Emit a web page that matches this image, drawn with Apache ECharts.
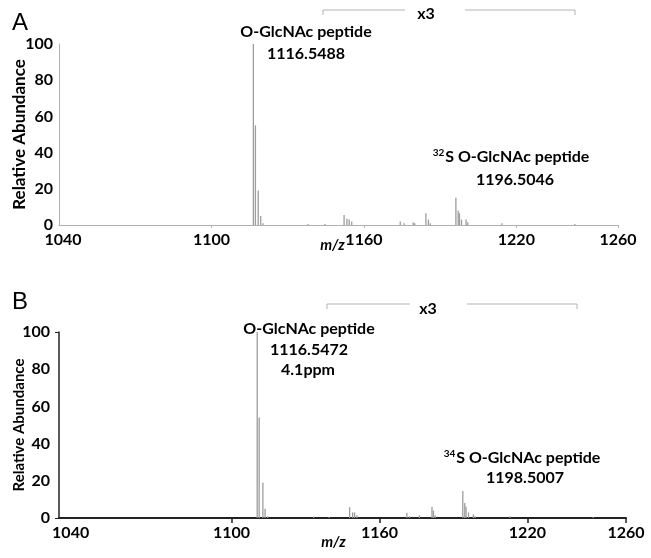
<!DOCTYPE html>
<html>
<head>
<meta charset="utf-8">
<script src="https://cdn.jsdelivr.net/npm/echarts@6/dist/echarts.min.js"></script>
<style>
  html, body { margin: 0; padding: 0; background: #fff; }
  #chart { width: 651px; height: 558px; }
</style>
</head>
<body>
<div id="chart"></div>
<script>
// panel A: spectrum (m/z, relative abundance)
const mzA = [1116.5, 1117.3, 1118.4, 1119.4, 1120.3, 1138.0, 1144.7, 1152.2, 1153.3, 1154.2, 1155.2,
  1174.3, 1175.8, 1179.4, 1180.0, 1184.4, 1185.4, 1186.1, 1196.2, 1197.1, 1197.6, 1198.4,
  1200.2, 1200.9, 1214.3, 1243.0];
const intA = [100, 55, 19, 5, 1, 0.6, 0.5, 5.5, 3.5, 3, 2,
  2, 1, 1.5, 1, 6.5, 3, 1, 15, 8, 6.5, 3,
  3, 1.5, 1, 0.5];

// panel B
const mzB = [1110.4, 1111.2, 1112.7, 1113.6, 1114.7, 1133.3, 1139.6, 1147.9, 1149.1, 1149.9, 1150.9,
  1171.1, 1172.2, 1176.2, 1181.3, 1181.9, 1182.6, 1193.8, 1194.6, 1195.1, 1196.1, 1198.1,
  1198.8, 1212.9, 1246.7];
const intB = [100, 54, 19, 5, 1, 0.8, 0.5, 5.8, 3, 3, 1.5,
  2.8, 1, 1.5, 6, 4, 1.5, 14.5, 8, 6, 3, 2,
  1, 1, 0.5];

const xTicks = [1040, 1100, 1160, 1220, 1260];

const FONT = 'Lato';
const INK = '#000';
const peakColor = '#9c9c9c';

function pairs(xs, ys) {
  return xs.map((x, i) => [x, ys[i]]);
}

// stick spectrum: one vertical line per peak, placed through the axes
function sticks(params, api) {
  const top = api.coord([api.value(0), api.value(1)]);
  const base = api.coord([api.value(0), 0]);
  return {
    type: 'line',
    shape: { x1: top[0], y1: base[1], x2: top[0], y2: top[1] },
    style: { stroke: peakColor, lineWidth: 1.3 }
  };
}

// 1040 sits a bit off its tick in the original
function xLabel(shift) {
  return {
    customValues: xTicks,
    margin: 7,
    fontFamily: FONT,
    fontWeight: 'bold',
    fontSize: 16,
    color: INK,
    formatter: function (v) {
      return v === 1040 ? '{s|' + v + '}' : String(v);
    },
    rich: {
      s: { fontFamily: FONT, fontWeight: 'bold', fontSize: 16, color: INK, padding: shift }
    }
  };
}

const chart = echarts.init(document.getElementById('chart'), null, { renderer: 'canvas' });

const boldText = { fontFamily: FONT, fontWeight: 'bold', fontSize: 16, fill: INK };

function txt(x, y, text) {
  return {
    type: 'text', x: x, y: y,
    style: Object.assign({ text: text, align: 'center', verticalAlign: 'middle' }, boldText)
  };
}

function supText(x, y, sup, rest) {
  return {
    type: 'text', x: x, y: y,
    style: {
      text: '{sup|' + sup + '}{b|' + rest + '}',
      align: 'center', verticalAlign: 'middle',
      rich: {
        sup: { fontFamily: FONT, fontWeight: 'bold', fontSize: 10, color: INK, padding: [0, 1, 8, 0] },
        b: { fontFamily: FONT, fontWeight: 'bold', fontSize: 16, color: INK }
      }
    }
  };
}

function bracket(y, x1, x2, x3, x4, drop) {
  const ls = { stroke: '#b4b4b4', lineWidth: 1, fill: null };
  return [
    { type: 'polyline', shape: { points: [[x1, y + drop], [x1, y], [x2, y]] }, style: ls },
    { type: 'polyline', shape: { points: [[x3, y], [x4, y], [x4, y + drop]] }, style: ls }
  ];
}

function nameStyleX(padRight) {
  return { fontFamily: FONT, fontWeight: 'bold', fontStyle: 'italic', fontSize: 15, color: INK, padding: [0, padRight, 0, 0] };
}

chart.setOption({
  backgroundColor: '#fff',
  animation: false,
  grid: [
    { left: 59, right: 33, top: 44, height: 181, containLabel: false, outerBoundsMode: 'none' },
    { left: 59, right: 25, top: 332, height: 186, containLabel: false, outerBoundsMode: 'none' }
  ],
  xAxis: [
    {
      gridIndex: 0, type: 'value', min: 1040, max: 1260,
      name: 'm/z', nameLocation: 'middle', nameGap: 13, nameMoveOverlap: false,
      nameTextStyle: nameStyleX(12),
      splitLine: { show: false },
      axisLine: { lineStyle: { color: '#b0b0b0', width: 1 } },
      axisTick: { customValues: [1100, 1160, 1220, 1260], length: 3, lineStyle: { color: '#b0b0b0' } },
      axisLabel: xLabel([0, 0, 0, 8])
    },
    {
      gridIndex: 1, type: 'value', min: 1030, max: 1260,
      name: 'm/z', nameLocation: 'middle', nameGap: 17, nameMoveOverlap: false,
      nameTextStyle: nameStyleX(18),
      splitLine: { show: false },
      axisLine: { lineStyle: { color: '#222', width: 2 } },
      axisTick: { customValues: [1100, 1160, 1220, 1260], length: 5, lineStyle: { color: '#222', width: 1.5 } },
      axisLabel: xLabel([0, 26, 0, 0])
    }
  ],
  yAxis: [
    {
      gridIndex: 0, type: 'value', min: 0, max: 100, interval: 20,
      name: 'Relative Abundance', nameLocation: 'middle', nameGap: 31, nameMoveOverlap: false,
      nameTextStyle: { fontFamily: FONT, fontWeight: 'bold', fontSize: 17, color: INK },
      splitLine: { show: false },
      axisLine: { show: true, lineStyle: { color: '#b0b0b0', width: 1 } },
      axisTick: { show: false },
      axisLabel: { margin: 6, fontFamily: FONT, fontWeight: 'bold', fontSize: 16, color: INK }
    },
    {
      gridIndex: 1, type: 'value', min: 0, max: 100, interval: 20,
      name: 'Relative Abundance', nameLocation: 'middle', nameGap: 32, nameMoveOverlap: false,
      nameTextStyle: { fontFamily: FONT, fontWeight: 'bold', fontSize: 15, color: INK },
      splitLine: { show: false },
      axisLine: { show: true, lineStyle: { color: '#222', width: 1.5 } },
      axisTick: { show: true, customValues: [0, 100], length: 4, lineStyle: { color: '#222' } },
      axisLabel: { margin: 9, fontFamily: FONT, fontWeight: 'bold', fontSize: 16, color: INK }
    }
  ],
  series: [
    {
      type: 'custom', xAxisIndex: 0, yAxisIndex: 0,
      data: pairs(mzA, intA), renderItem: sticks
    },
    {
      type: 'custom', xAxisIndex: 1, yAxisIndex: 1,
      data: pairs(mzB, intB), renderItem: sticks
    }
  ],
  graphic: [
    // panel A
    { type: 'text', x: 12, y: 11, style: { text: 'A', fontFamily: 'Liberation Sans', fontSize: 24, fill: INK } },
    txt(306, 32, 'O-GlcNAc peptide'),
    txt(306, 54, '1116.5488'),
    txt(426, 14, 'x3'),
    ...bracket(10, 323, 405, 465, 575, 5),
    supText(511, 157, '32', 'S O-GlcNAc peptide'),
    txt(515, 180, '1196.5046'),
    // panel B
    { type: 'text', x: 12, y: 290, style: { text: 'B', fontFamily: 'Liberation Sans', fontSize: 24, fill: INK } },
    txt(309, 329, 'O-GlcNAc peptide'),
    txt(309, 350, '1116.5472'),
    txt(308, 370, '4.1ppm'),
    txt(428, 309, 'x3'),
    ...bracket(304, 327, 410, 467, 577, 5),
    supText(522, 458, '34', 'S O-GlcNAc peptide'),
    txt(525, 478, '1198.5007')
  ]
});
</script>
</body>
</html>
